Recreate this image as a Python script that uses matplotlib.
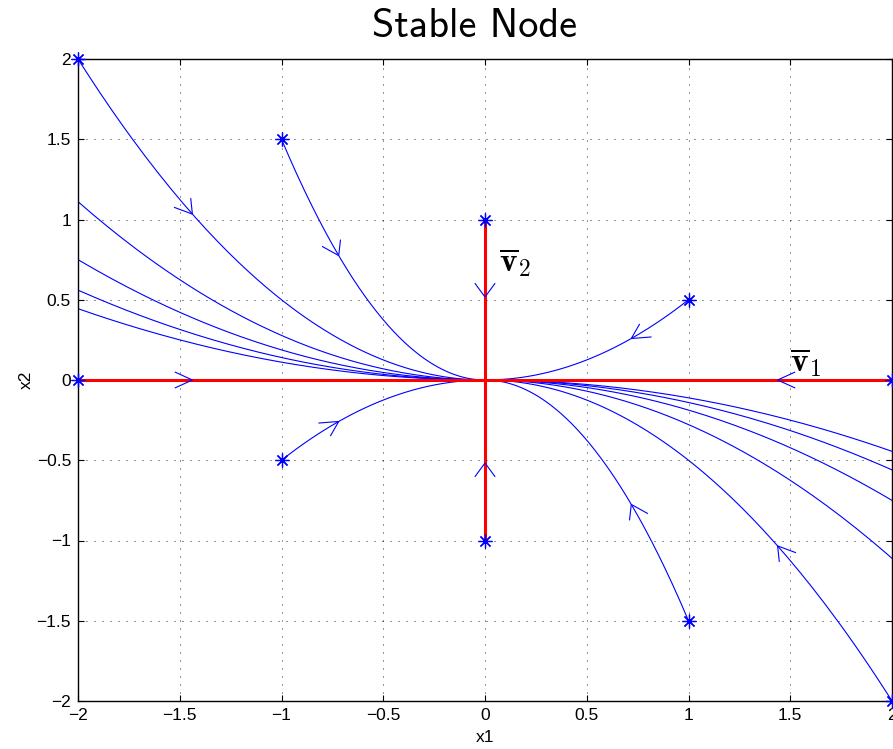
import numpy as np
import matplotlib
matplotlib.use("Agg")
import matplotlib.pyplot as plt

plt.rcParams["mathtext.fontset"] = "cm"
plt.rcParams["font.family"] = ["Liberation Sans", "DejaVu Sans"]

# system: x1' = -x1, x2' = -2*x2  (eigenvalues -1 and -2)
lam1, lam2 = -1.0, -2.0

# initial conditions of the plotted trajectories (blue)
start_x1 = [-2, -1, 1, -1, 1, 2, -3, -4, -5, -6, 3, 4, 5, 6]
start_x2 = [2, 1.5, 0.5, -0.5, -1.5, -2, 2.5, 3, 3.5, 4, -2.5, -3, -3.5, -4]
# which of them get a start marker (inside the window)
marked = [True] * 6 + [False] * 8

# trajectories along the eigenvectors (red)
eig_x1 = [-2, 2, 0, 0]
eig_x2 = [0, 0, 1, -1]

tick_vals = [-2, -1.5, -1, -0.5, 0, 0.5, 1, 1.5, 2]
tick_text = ["\u22122", "\u22121.5", "\u22121", "\u22120.5", "0", "0.5", "1", "1.5", "2"]

t = np.linspace(0, 12, 600)
t_arrow = 0.33
arrow_len = 0.1
arrow_ang = np.deg2rad(30)

fig = plt.figure(figsize=(8.93, 7.49), dpi=100)
ax = fig.add_axes([78 / 893, 48 / 749, 814 / 893, 642 / 749])


def traj(x0, y0, tt):
    return x0 * np.exp(lam1 * tt), y0 * np.exp(lam2 * tt)


def chevron(x0, y0):
    # open arrow head at t_arrow, built in data units
    px, py = traj(x0, y0, t_arrow)
    dx, dy = lam1 * px, lam2 * py
    n = np.hypot(dx, dy)
    bx, by = -dx / n, -dy / n
    for s in (1, -1):
        c, sn = np.cos(s * arrow_ang), np.sin(s * arrow_ang)
        lx = bx * c - by * sn
        ly = bx * sn + by * c
        ax.plot([px + arrow_len * lx, px], [py + arrow_len * ly, py],
                color="blue", lw=0.8, zorder=5, solid_capstyle="butt")


def star(x0, y0):
    ax.plot(x0, y0, marker=(8, 2, 0), color="blue", ms=10, mew=0.9,
            zorder=6, clip_on=False)


for x0, y0, m in zip(start_x1, start_x2, marked):
    xs, ys = traj(x0, y0, t)
    ax.plot(xs, ys, color="blue", lw=0.8, zorder=2)
    chevron(x0, y0)
    if m:
        star(x0, y0)

for x0, y0 in zip(eig_x1, eig_x2):
    ax.plot([x0, 0], [y0, 0], color="red", lw=2.2, zorder=3)
    chevron(x0, y0)
    star(x0, y0)

ax.text(0.07, 0.675, r"$\overline{\mathbf{v}}_2$", fontsize=24, ha="left", va="baseline")
ax.text(1.50, 0.052, r"$\overline{\mathbf{v}}_1$", fontsize=24, ha="left", va="baseline")

ax.set_xlim(-2, 2)
ax.set_ylim(-2, 2)
ax.set_xticks(tick_vals)
ax.set_yticks(tick_vals)
ax.set_xticklabels(tick_text)
ax.set_yticklabels(tick_text)
ax.tick_params(direction="in", top=True, right=True, length=4, width=0.8, labelsize=12.5, pad=5)
ax.grid(True, color="black", lw=0.6, ls=(0, (1.2, 8.4)))
for sp in ax.spines.values():
    sp.set_linewidth(1.0)

ax.set_xlabel("x1", fontsize=12.5, labelpad=5)
ax.set_ylabel("x2", fontsize=12.5, labelpad=2)
ax.set_title("Stable Node", fontfamily="cmss10", fontsize=29, pad=16, x=0.487)

fig.savefig("out.png", dpi=100)
